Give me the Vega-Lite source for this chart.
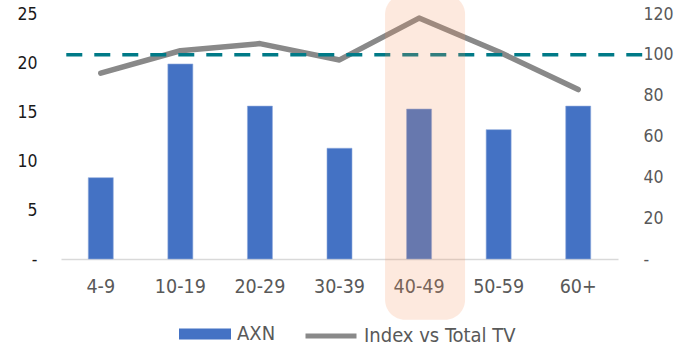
{
  "$schema": "https://vega.github.io/schema/vega-lite/v6.json",
  "autosize": {"type": "none"},
  "width": 557,
  "height": 245,
  "padding": {"left": 61, "top": 14, "right": 65, "bottom": 87},
  "background": "white",
  "config": {
    "view": {"stroke": null},
    "font": "DejaVu Sans Condensed, DejaVu Sans",
    "axis": {"grid": false, "ticks": false, "tickSize": 0, "domain": false, "labelFontSize": 17.5, "labelColor": "#595959"},
    "legend": {"padding": 0, "labelFontSize": 20, "labelLimit": 400, "labelColor": "#595959", "orient": "none", "direction": "horizontal", "title": null}
  },
  "data": {
    "values": [
      {"age": "4-9", "axn": 8.3, "index": 91},
      {"age": "10-19", "axn": 19.9, "index": 102},
      {"age": "20-29", "axn": 15.6, "index": 105.5},
      {"age": "30-39", "axn": 11.3, "index": 97.5},
      {"age": "40-49", "axn": 15.3, "index": 118},
      {"age": "50-59", "axn": 13.2, "index": 101.5},
      {"age": "60+", "axn": 15.6, "index": 83}
    ]
  },
  "layer": [
    {
      "layer": [
        {
          "mark": {"type": "bar", "stroke": "#8fa9dc", "strokeWidth": 0.6},
          "encoding": {
            "x": {
              "field": "age",
              "type": "nominal",
              "sort": null,
              "title": null,
              "scale": {"domain": ["4-9", "10-19", "20-29", "30-39", "40-49", "50-59", "60+"], "paddingInner": 0.686, "paddingOuter": 0.343},
              "axis": {"labelAngle": 0, "domain": true, "domainColor": "#d9d9d9", "domainWidth": 1.5, "labelPadding": 18, "labelFontSize": 19.5}
            },
            "y": {
              "field": "axn",
              "type": "quantitative",
              "title": null,
              "scale": {"domain": [0, 25]},
              "axis": {"values": [0, 5, 10, 15, 20, 25], "labelColor": "#1a1a1a", "labelPadding": 24, "labelExpr": "datum.value == 0 ? '-\u00a0\u00a0' : datum.label"}
            },
            "fill": {
              "datum": "AXN",
              "scale": {"domain": ["AXN"], "range": ["#4472C4"]},
              "legend": {"legendX": 118, "legendY": 294, "symbolType": "M-1,-0.21L1,-0.21L1,0.21L-1,0.21Z", "symbolSize": 2704, "symbolStrokeWidth": 0, "labelOffset": 6}
            }
          }
        }
      ]
    },
    {
      "layer": [
        {
          "mark": {"type": "line", "strokeWidth": 5.5, "strokeCap": "round", "strokeJoin": "round"},
          "encoding": {
            "x": {"field": "age", "type": "nominal", "sort": null},
            "y": {
              "field": "index",
              "type": "quantitative",
              "title": null,
              "scale": {"domain": [0, 120]},
              "axis": {"orient": "right", "values": [0, 20, 40, 60, 80, 100, 120], "labelPadding": 25, "labelExpr": "datum.value == 0 ? '\u00a0-' : datum.label"}
            },
            "stroke": {
              "datum": "Index vs Total TV",
              "scale": {"domain": ["Index vs Total TV"], "range": ["#898989"]},
              "legend": {"legendX": 242, "legendY": 294, "symbolType": "stroke", "symbolSize": 2600, "symbolStrokeWidth": 5, "labelOffset": 5}
            }
          }
        },
        {
          "data": {"values": [{"index": 100, "from": "4-9", "to": "60+"}]},
          "mark": {"type": "rule", "color": "#007a87", "strokeWidth": 3.5, "strokeDash": [16, 12], "xOffset": -34.5, "x2Offset": 64},
          "encoding": {
            "x": {"field": "from", "type": "nominal", "sort": null},
            "x2": {"field": "to"},
            "y": {"field": "index", "type": "quantitative"}
          }
        }
      ]
    },
    {
      "layer": [
        {
          "data": {"values": [{"age": "40-49"}]},
          "mark": {"type": "rect", "color": "#F5915A", "opacity": 0.2, "width": 80, "cornerRadius": 20, "xOffset": 6, "clip": false},
          "encoding": {
            "x": {"field": "age", "type": "nominal", "sort": null},
            "y": {"datum": 27, "type": "quantitative", "scale": {"domain": [0, 25]}, "axis": null},
            "y2": {"datum": -6.2}
          }
        }
      ]
    }
  ],
  "resolve": {"scale": {"y": "independent", "fill": "independent", "stroke": "independent"}}
}
